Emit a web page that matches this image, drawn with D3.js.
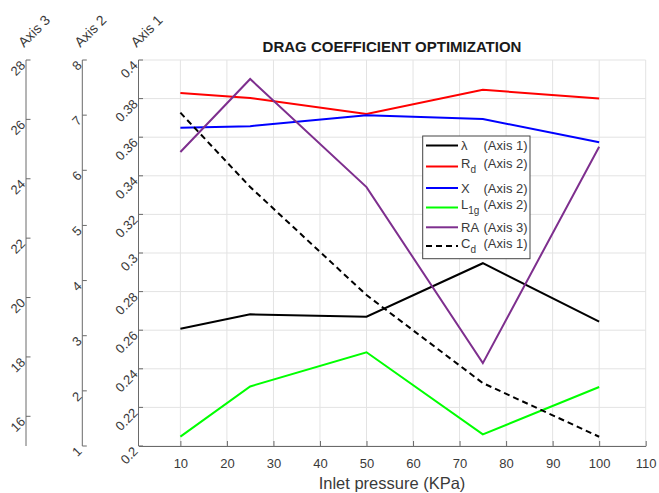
<!DOCTYPE html>
<html><head><meta charset="utf-8">
<script src="https://cdn.jsdelivr.net/npm/d3@7/dist/d3.min.js"></script>
<style>
body{margin:0;background:#fff;}
svg{display:block;font-family:"Liberation Sans",Arial,Helvetica,sans-serif;}
</style></head>
<body><svg id="c" width="659" height="493"></svg>
<script>
// ---- data ----
const pressure = [10, 25, 50, 75, 100];
const lambdaVals = [0.2608, 0.2682, 0.2670, 0.2947, 0.2644];   // Axis 1
const RdVals = [7.40, 7.31, 7.02, 7.46, 7.30];                   // Axis 2
const XVals = [6.77, 6.80, 7.00, 6.93, 6.51];                    // Axis 2
const L1gVals = [1.17, 2.08, 2.70, 1.21, 2.07];                  // Axis 2
const RAVals = [24.90, 27.36, 23.72, 17.79, 25.08];              // Axis 3
const CdVals = [0.3727, 0.3342, 0.2782, 0.2326, 0.2048];         // Axis 1
const xTicks = [10, 20, 30, 40, 50, 60, 70, 80, 90, 100, 110];
const axis1Ticks = [0.2, 0.22, 0.24, 0.26, 0.28, 0.3, 0.32, 0.34, 0.36, 0.38, 0.4];
const axis2Ticks = [1, 2, 3, 4, 5, 6, 7, 8];
const axis3Ticks = [16, 18, 20, 22, 24, 26, 28];
const titleText = "DRAG COEFFICIENT OPTIMIZATION";
const xLabel = "Inlet pressure (KPa)";

// ---- layout ----
const svg = d3.select("#c");
const L = 138.5, R = 645.7, T = 60, B = 446;
const ax2X = 82.3, ax3X = 26;
const x = d3.scaleLinear().domain([1, 110]).range([L, R]);
const y1 = d3.scaleLinear().domain([0.2, 0.4]).range([B, T]);
const y2 = d3.scaleLinear().domain([1, 8]).range([B, T]);
const y3 = d3.scaleLinear().domain([15, 28]).range([B, T]);
const axisCol = "#6a6a6a", textCol = "#3a3a3a", gridCol = "#e3e3e3";
const c45 = Math.SQRT1_2;
const rot = (tx, ty) => `matrix(${c45},${-c45},${c45},${c45},${tx},${ty})`;

// grid
const g = svg.append("g");
g.selectAll(".vg").data(xTicks).join("line")
  .attr("x1", d => x(d)).attr("x2", d => x(d)).attr("y1", T).attr("y2", B)
  .attr("stroke", gridCol).attr("stroke-width", 1);
g.selectAll(".hg").data(axis1Ticks).join("line")
  .attr("x1", L).attr("x2", R).attr("y1", d => y1(d)).attr("y2", d => y1(d))
  .attr("stroke", gridCol).attr("stroke-width", 1);

// bottom axis
const xAxis = d3.axisBottom(x).tickValues(xTicks).tickSizeInner(-5).tickSizeOuter(0).tickPadding(13);
const gx = svg.append("g").attr("transform", `translate(0,${B})`).call(xAxis);
gx.select(".domain").attr("stroke", axisCol);
gx.selectAll(".tick line").attr("stroke", axisCol);
gx.selectAll(".tick text").attr("fill", textCol).attr("font-size", 13)
  .attr("font-family", '"Liberation Sans",Arial,sans-serif');

// left axes
function leftAxis(scale, ticks, ax, fmt) {
  const a = svg.append("g");
  a.append("line").attr("x1", ax).attr("x2", ax).attr("y1", T).attr("y2", B).attr("stroke", axisCol);
  a.selectAll(".tk").data(ticks).join("line")
    .attr("x1", ax).attr("x2", ax + 4.5).attr("y1", d => scale(d)).attr("y2", d => scale(d))
    .attr("stroke", axisCol);
  a.selectAll(".tl").data(ticks).join("text")
    .attr("transform", d => rot(ax - 3, scale(d) + 3))
    .attr("text-anchor", "end").attr("y", 4.5)
    .attr("font-size", 13).attr("fill", textCol).text(fmt);
}
leftAxis(y1, axis1Ticks, L, d => String(+d.toFixed(2)));
leftAxis(y2, axis2Ticks, ax2X, d => String(d));
leftAxis(y3, axis3Ticks, ax3X, d => String(d));

// axis titles
[["Axis 3", ax3X], ["Axis 2", ax2X], ["Axis 1", L]].forEach(([t, ax]) => {
  svg.append("text").attr("transform", rot(ax - 2, 48))
    .attr("font-size", 14).attr("fill", textCol).text(t);
});

// series
const series = [
  {vals: lambdaVals, scale: y1, color: "#000000", dash: null},
  {vals: RdVals, scale: y2, color: "#ff0000", dash: null},
  {vals: XVals, scale: y2, color: "#0000ff", dash: null},
  {vals: L1gVals, scale: y2, color: "#00ff00", dash: null},
  {vals: RAVals, scale: y3, color: "#7e2f8e", dash: null},
  {vals: CdVals, scale: y1, color: "#000000", dash: "6,4"}
];
series.forEach(s => {
  const line = d3.line().x((d, i) => x(pressure[i])).y(d => s.scale(d));
  svg.append("path").datum(s.vals).attr("d", line)
    .attr("fill", "none").attr("stroke", s.color).attr("stroke-width", 2)
    .attr("stroke-dasharray", s.dash);
});

// title
svg.append("text").attr("x", 392).attr("y", 52).attr("text-anchor", "middle")
  .attr("font-size", 15).attr("font-weight", "bold").attr("fill", "#1a1a1a").text(titleText);
// x label
svg.append("text").attr("x", 392).attr("y", 488.5).attr("text-anchor", "middle")
  .attr("font-size", 16.5).attr("fill", textCol).text(xLabel);

// legend
const leg = svg.append("g");
leg.append("rect").attr("x", 422.7).attr("y", 136).attr("width", 107.3).attr("height", 122.7)
  .attr("fill", "#fff").attr("stroke", "#444").attr("stroke-width", 1);
const legItems = [
  {main: "λ", sub: "", axis: "(Axis 1)", s: series[0]},
  {main: "R", sub: "d", axis: "(Axis 2)", s: series[1]},
  {main: "X", sub: "", axis: "(Axis 2)", s: series[2]},
  {main: "L", sub: "1g", axis: "(Axis 2)", s: series[3]},
  {main: "RA", sub: "", axis: "(Axis 3)", s: series[4]},
  {main: "C", sub: "d", axis: "(Axis 1)", s: series[5]}
];
const rowY = [145.5, 166.5, 188, 207.5, 227.3, 246];
legItems.forEach((it, i) => {
  const yy = rowY[i];
  leg.append("line").attr("x1", 426).attr("x2", 458).attr("y1", yy).attr("y2", yy)
    .attr("stroke", it.s.color).attr("stroke-width", 2).attr("stroke-dasharray", it.s.dash);
  const shift = it.sub ? -3 : 0;
  const t = leg.append("text").attr("x", 461).attr("y", yy + 4.5 + shift)
    .attr("font-size", 13).attr("fill", textCol);
  t.append("tspan").text(it.main);
  if (it.sub) t.append("tspan").attr("dy", 5).attr("font-size", 10).text(it.sub);
  leg.append("text").attr("x", 483.5).attr("y", yy + 4.5 + shift)
    .attr("font-size", 13).attr("fill", textCol).text(it.axis);
});
</script></body></html>
